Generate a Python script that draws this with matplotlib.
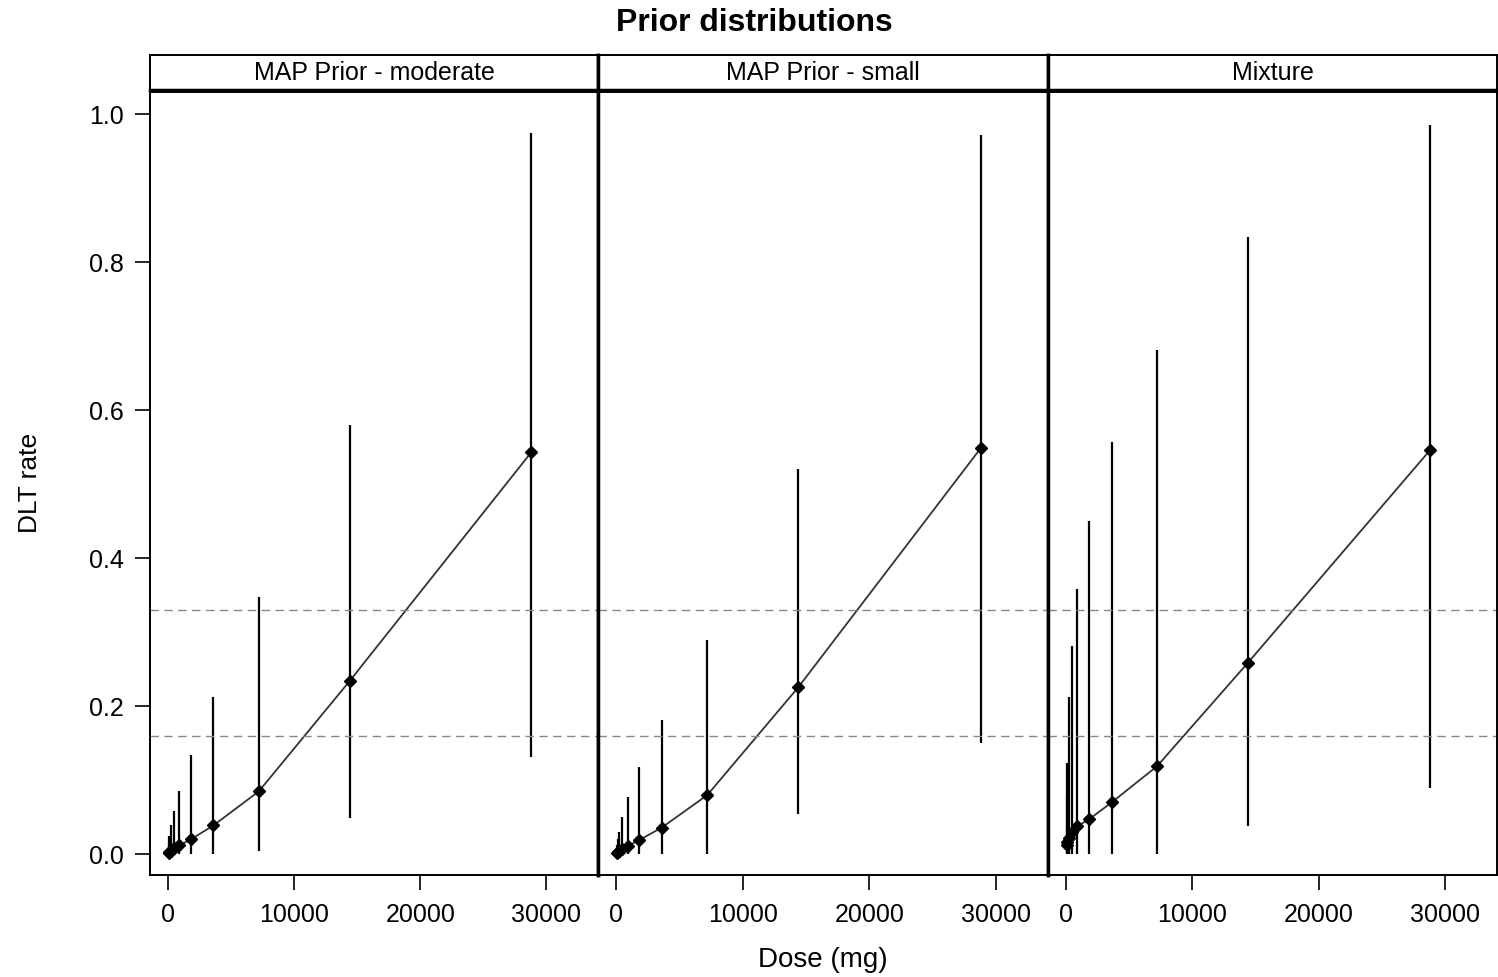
import numpy as np
import matplotlib
matplotlib.use('Agg')
import matplotlib.pyplot as plt

plt.rcParams['font.family'] = ['Liberation Sans', 'DejaVu Sans']

doses = [56.25, 112.5, 225, 450, 900, 1800, 3600, 7200, 14400, 28800]
panels = ['MAP Prior - moderate', 'MAP Prior - small', 'Mixture']

# median and 95% interval of DLT rate per dose
med_moderate = [0.002, 0.003, 0.005, 0.008, 0.012, 0.020, 0.039, 0.085, 0.234, 0.543]
low_moderate = [0.0, 0.0, 0.0, 0.0, 0.0, 0.0, 0.0, 0.004, 0.049, 0.131]
upp_moderate = [0.015, 0.025, 0.039, 0.058, 0.086, 0.134, 0.213, 0.347, 0.580, 0.974]

med_small = [0.002, 0.003, 0.005, 0.007, 0.011, 0.019, 0.036, 0.080, 0.226, 0.549]
low_small = [0.0, 0.0, 0.0, 0.0, 0.0, 0.0, 0.0, 0.0, 0.055, 0.151]
upp_small = [0.012, 0.02, 0.030, 0.050, 0.077, 0.118, 0.181, 0.289, 0.520, 0.972]

med_mix = [0.012, 0.016, 0.022, 0.030, 0.038, 0.047, 0.070, 0.119, 0.259, 0.546]
low_mix = [0.0, 0.0, 0.0, 0.0, 0.0, 0.0, 0.0, 0.0, 0.038, 0.089]
upp_mix = [0.080, 0.124, 0.212, 0.281, 0.358, 0.451, 0.557, 0.682, 0.834, 0.986]

meds = [med_moderate, med_small, med_mix]
lows = [low_moderate, low_small, low_mix]
upps = [upp_moderate, upp_small, upp_mix]

ref_lines = [0.16, 0.33]
xticks = [0, 10000, 20000, 30000]
yticks = [0.0, 0.2, 0.4, 0.6, 0.8, 1.0]

W, H = 1498, 977
fig = plt.figure(figsize=(W / 100, H / 100), dpi=100)

edges = [150, 598, 1048, 1497]
plot_top, plot_bot = 92, 875
strip_top, strip_bot = 55, 90
fs = 18

for i, name in enumerate(panels):
    x0 = edges[i] / W
    w = (edges[i + 1] - edges[i]) / W
    ax = fig.add_axes([x0, 1 - plot_bot / H, w, (plot_bot - plot_top) / H])
    sax = fig.add_axes([x0, 1 - strip_bot / H, w, (strip_bot - strip_top) / H])

    ax.vlines(doses, lows[i], upps[i], color='black', lw=1.6)
    ax.plot(doses, meds[i], color='#333333', lw=1.3, marker='D', ms=6,
            mfc='black', mec='black')
    for r in ref_lines:
        ax.axhline(r, color='#888888', lw=1, ls=(0, (6, 4)))

    ax.set_xlim(-1430, 34100)
    ax.set_ylim(-0.028, 1.03)
    ax.set_xticks(xticks)
    ax.set_xticklabels([str(t) for t in xticks])
    ax.tick_params(axis='x', direction='out', length=11, width=1.2,
                   labelsize=fs, pad=9)
    if i == 0:
        ax.set_yticks(yticks)
        ax.set_yticklabels(['%.1f' % t for t in yticks])
        ax.tick_params(axis='y', direction='out', length=11, width=1.2,
                       labelsize=fs, pad=8)
    else:
        ax.set_yticks([])
    for s in ax.spines.values():
        s.set_linewidth(1.4)
    if i > 0:
        ax.spines['left'].set_linewidth(2.5)
    if i < 2:
        ax.spines['right'].set_linewidth(2.5)

    sax.set_xticks([])
    sax.set_yticks([])
    for s in sax.spines.values():
        s.set_linewidth(1.4)
    sax.spines['bottom'].set_linewidth(2.5)
    if i > 0:
        sax.spines['left'].set_linewidth(2.5)
    if i < 2:
        sax.spines['right'].set_linewidth(2.5)
    sax.text(0.5, 0.5, name, ha='center', va='center', fontsize=fs,
             transform=sax.transAxes)

fig.text(30 / W, 1 - 483 / H, 'DLT rate', rotation=90, ha='center',
         va='center', fontsize=19)
fig.text(823 / W, 1 - 960 / H, 'Dose (mg)', ha='center', va='center',
         fontsize=20)
fig.text(754 / W, 1 - 23 / H, 'Prior distributions', ha='center',
         va='center', fontsize=23, fontweight='bold')

fig.savefig('out.png', dpi=100)
